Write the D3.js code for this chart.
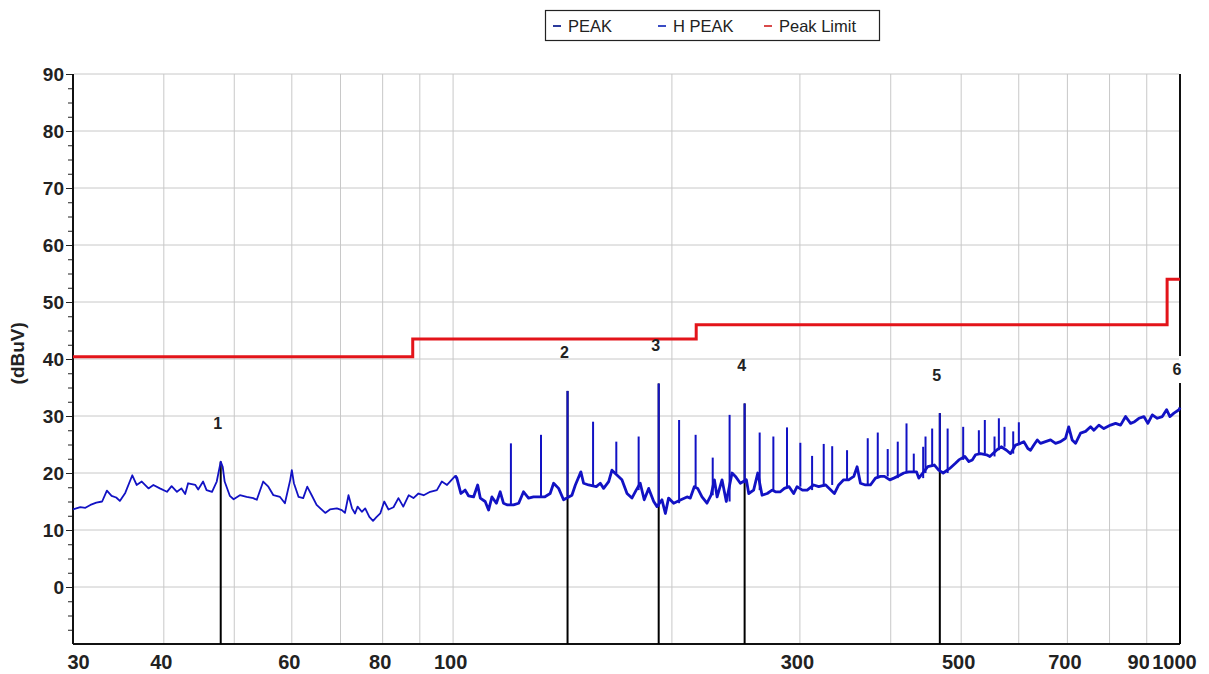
<!DOCTYPE html>
<html>
<head>
<meta charset="utf-8">
<script src="https://cdn.jsdelivr.net/npm/d3@7"></script>
<style>
body { margin: 0; background: #fff; }
svg { display: block; font-family: "Liberation Sans", Arial, sans-serif; }
</style>
</head>
<body>
<svg width="1209" height="674"></svg>
<script>
// axis values
const xTicks = [30, 40, 60, 80, 100, 300, 500, 700, 900, 1000];
const xGrid = [40, 50, 60, 70, 80, 90, 100, 200, 300, 400, 500, 600, 700, 800, 900];
const yTicks = [0, 10, 20, 30, 40, 50, 60, 70, 80, 90];
const yMinor = [-7.5, -5, -2.5, 2.5, 5, 7.5, 12.5, 15, 17.5, 22.5, 25, 27.5, 32.5, 35, 37.5,
    42.5, 45, 47.5, 52.5, 55, 57.5, 62.5, 65, 67.5, 72.5, 75, 77.5, 82.5, 85, 87.5];

// Peak Limit (MHz, dBuV), stepped
const limitSteps = [[30, 40.4], [88, 43.5], [216, 46], [960, 54], [1000, 54]];

// marker points (MHz, dBuV)
const markers = [
    { id: "1", f: 47.9, v: 22.0 },
    { id: "2", f: 143.7, v: 34.4 },
    { id: "3", f: 191.8, v: 35.7 },
    { id: "4", f: 251.8, v: 32.2 },
    { id: "5", f: 467.3, v: 30.5 },
    { id: "6", f: 1000, v: 31.5 }
];

const legendItems = [
    { name: "PEAK", color: "#2b3a9c" },
    { name: "H PEAK", color: "#3a4cc4" },
    { name: "Peak Limit", color: "#d94a4a" }
];

// PEAK noise floor (MHz, dBuV)
const peakTrace = [
[30.0,13.6],[30.7,14.0],[31.2,13.9],[31.7,14.4],[32.3,14.8],[32.9,15.0],[33.4,16.9],[33.9,16.0],[34.4,15.7],[34.8,15.1],
[35.4,16.5],[36.2,19.6],[36.7,17.9],[37.3,18.5],[38.1,17.3],[38.7,17.9],[39.5,17.3],[40.4,16.7],[41.0,17.7],[41.7,16.7],
[42.3,17.3],[42.8,16.3],[43.2,18.2],[44.2,17.9],[44.6,17.1],[45.3,18.5],[45.8,17.0],[46.6,16.7],[47.3,18.5],[47.9,22.0],
[48.2,21.1],[48.5,18.5],[49.3,16.0],[49.9,15.4],[50.9,16.1],[52.0,15.8],[53.1,15.6],[53.7,15.3],[54.8,18.5],[55.7,17.6],
[56.6,16.1],[57.8,15.8],[58.7,14.7],[59.7,18.8],[60.0,20.5],[60.4,18.2],[61.3,15.8],[62.2,15.6],[63.0,17.6],[63.9,16.1],
[64.9,14.4],[66.7,13.0],[67.7,13.6],[69.2,13.8],[70.3,13.5],[71.0,13.0],[71.8,16.1],[72.6,13.8],[73.3,12.9],[73.9,14.1],
[74.9,13.2],[75.7,13.8],[76.7,12.3],[77.6,11.6],[78.5,12.3],[79.4,12.9],[80.4,15.0],[81.5,13.6],[82.8,14.0],[84.1,15.6],
[85.4,14.1],[86.9,16.1],[88.2,15.6],[89.6,16.4],[91.1,16.1],[93.0,16.7],[95.0,17.0],[96.5,18.5],[98.1,17.9],[100.7,19.5],
[101.2,19.1],[102.5,16.4],[103.9,17.0],[105.0,16.0],[106.7,15.8],[108.1,17.9],[109.0,15.6],[110.7,15.0],[111.9,13.5],[113.1,15.8],
[114.7,14.7],[116.1,16.7],[117.3,14.7],[118.8,14.4],[121.1,14.4],[123.1,14.7],[125.0,16.7],[127.0,15.6],[129.0,15.8],[133.6,15.8],
[136.0,16.4],[137.5,18.2],[139.7,17.3],[141.9,15.3],[145.7,16.1],[147.3,17.9],[149.9,20.2],[151.2,18.2],[153.6,17.9],[157.4,17.6],
[159.4,18.2],[161.1,17.3],[163.7,18.5],[165.4,20.5],[170.7,18.8],[173.5,16.4],[176.2,15.6],[178.6,17.0],[180.9,18.2],[183.2,15.3],
[185.8,17.3],[188.8,15.0],[190.8,14.1],[193.8,15.3],[195.9,12.9],[197.9,15.6],[201.1,14.7],[205.8,15.3],[209.8,15.8],[212.0,15.6],
[214.7,17.6],[217.0,17.3],[220.0,15.8],[223.5,14.7],[226.4,16.1],[228.8,18.8],[230.8,15.8],[234.4,18.8],[237.6,15.0],[242.0,20.0],
[244.6,19.4],[248.4,18.2],[253.2,18.8],[255.1,16.4],[259.1,17.0],[262.5,20.0],[266.1,16.1],[270.5,16.4],[274.7,17.0],[277.6,16.7],
[282.0,16.7],[285.6,17.3],[289.9,17.6],[294.1,16.4],[297.3,17.6],[302.4,17.0],[307.0,17.0],[313.4,17.9],[318.4,17.6],[325.5,17.9],
[334.6,16.4],[339.2,17.9],[344.6,18.8],[350.1,18.8],[355.8,19.4],[359.6,21.1],[363.4,18.2],[369.2,17.9],[375.1,17.9],[381.1,19.1],
[387.2,19.4],[392.1,19.4],[398.8,18.8],[404.0,19.1],[411.6,19.6],[416.9,20.0],[423.6,20.2],[434.0,20.2],[437.2,19.1],[449.8,21.1],
[459.4,21.4],[465.6,20.5],[472.3,20.0],[482.2,20.8],[491.0,21.7],[496.3,22.3],[505.8,22.9],[512.3,22.0],[517.9,22.3],[523.3,23.2],
[531.5,23.4],[541.8,23.2],[547.5,22.9],[559.2,24.0],[567.6,24.6],[577.3,24.0],[584.6,23.4],[594.0,24.9],[603.4,25.2],[609.8,25.5],
[617.6,24.3],[622.8,24.0],[629.4,24.9],[636.3,25.8],[642.9,25.2],[653.1,25.5],[663.6,25.8],[674.2,25.2],[685.0,25.5],[695.9,26.1],
[702.9,28.1],[710.6,25.8],[718.3,25.2],[729.8,27.0],[741.5,27.3],[753.3,28.1],[761.2,27.5],[773.4,28.4],[785.7,27.8],[802.6,28.4],
[815.4,28.7],[828.4,28.4],[841.7,29.9],[855.1,28.7],[866.0,29.0],[877.9,29.6],[891.9,29.9],[903.2,28.7],[916.0,30.2],[930.6,29.6],
[945.5,29.9],[958.4,31.1],[968.5,29.9],[981.0,30.5],[996.8,31.1],[1000,31.5]
];

// narrow emissions on top of the floor: [MHz, base dBuV, top dBuV]
const peakSpikes = [
[120.1,14.4,25.2],[132.1,15.8,26.7],[143.7,16.0,34.4],[155.8,17.9,29.0],[167.7,20.0,25.5],[180.0,17.0,26.4],
[191.8,14.1,35.7],[204.6,14.7,29.3],[215.6,17.6,26.7],[227.6,16.1,22.7],[240.1,15.0,30.2],[251.8,18.2,32.2],
[264.1,17.0,27.1],[275.8,17.0,26.4],[288.0,17.3,28.0],[300.4,17.6,25.3],[311.8,17.0,23.0],[323.5,17.6,25.1],
[332.3,17.9,24.7],[348.3,18.8,24.0],[371.9,17.9,26.1],[383.9,19.1,27.1],[396.2,19.4,24.2],[409.0,19.1,25.5],
[420.5,20.0,28.7],[430.3,20.2,23.4],[443.3,19.1,24.6],[446.6,20.0,26.4],[456.1,21.1,27.8],[467.3,20.5,30.5],
[479.0,20.0,27.8],[503.2,22.3,28.1],[528.8,23.2,27.5],[538.9,23.4,29.3],[555.7,22.9,26.4],[563.4,24.0,29.6],
[573.6,24.6,28.1],[589.6,23.4,27.3],[600.2,24.9,28.9]
];

const svg = d3.select("svg");

const x = d3.scaleLog().domain([30, 1000]).range([73, 1180]);
const y = d3.scaleLinear().domain([-10, 90]).range([644, 74]);

// axis frame
const frame = svg.append("g").attr("stroke", "#111").attr("stroke-width", 2);
frame.append("line").attr("x1", x(30)).attr("x2", x(30)).attr("y1", y(90)).attr("y2", y(-10));
frame.append("line").attr("x1", x(30)).attr("x2", x(1000)).attr("y1", y(-10)).attr("y2", y(-10));
frame.append("line").attr("x1", x(1000)).attr("x2", x(1000)).attr("y1", y(90)).attr("y2", y(-10));

// white boxes behind marker numbers
const labelBg = svg.append("g");

// grid
svg.append("g")
    .selectAll("line")
    .data(yTicks)
    .join("line")
    .attr("x1", x(30) + 1).attr("x2", x(1000) - 1)
    .attr("y1", d => y(d)).attr("y2", d => y(d))
    .attr("stroke", "#c8c8c8");

svg.append("g")
    .selectAll("line")
    .data(xGrid)
    .join("line")
    .attr("x1", d => x(d)).attr("x2", d => x(d))
    .attr("y1", y(90)).attr("y2", y(-10) - 1)
    .attr("stroke", "#c8c8c8");

// y axis
const yAxis = svg.append("g")
    .attr("transform", `translate(${x(30) - 1},0)`)
    .call(d3.axisLeft(y).tickValues(yTicks).tickSize(6).tickPadding(2));
yAxis.select(".domain").remove();
yAxis.selectAll("line").attr("stroke", "#222");
yAxis.selectAll("text")
    .attr("font-size", 19).attr("font-weight", "bold").attr("fill", "#222")
    .attr("font-family", "Liberation Sans, Arial, sans-serif");

const yMinorAxis = svg.append("g")
    .attr("transform", `translate(${x(30) - 1},0)`)
    .call(d3.axisLeft(y).tickValues(yMinor).tickSize(4).tickFormat(""));
yMinorAxis.select(".domain").remove();
yMinorAxis.selectAll("line").attr("stroke", "#222");

svg.append("text")
    .attr("transform", `translate(24,${y(41)}) rotate(-90)`)
    .attr("text-anchor", "middle")
    .attr("font-size", 19).attr("font-weight", "bold").attr("fill", "#222")
    .text("(dBuV)");

// x axis
const xAxis = svg.append("g")
    .attr("transform", `translate(0,${y(-10)})`)
    .call(d3.axisBottom(x).tickValues(xTicks).tickFormat(d3.format("d")).tickSize(0).tickPadding(11));
xAxis.select(".domain").remove();
xAxis.selectAll("text")
    .attr("font-size", 20).attr("font-weight", "bold").attr("fill", "#222")
    .attr("font-family", "Liberation Sans, Arial, sans-serif")
    .attr("dx", -3);
xAxis.selectAll(".tick").filter(d => d === 30).select("text")
    .attr("text-anchor", "start").attr("dx", -6);
const lastTick = xAxis.selectAll(".tick").filter(d => d === 1000);
lastTick.select("text").attr("dx", -6);
lastTick.each(function () {
    const b = d3.select(this).select("text").node().getBBox();
    d3.select(this).insert("rect", "text")
        .attr("x", b.x - 3).attr("y", b.y).attr("width", b.width + 5).attr("height", b.height)
        .attr("fill", "#fff");
});

// limit line
const limitLine = d3.line()
    .x(d => x(d[0]))
    .y(d => y(d[1]))
    .curve(d3.curveStepAfter);

svg.append("path")
    .datum(limitSteps)
    .attr("d", limitLine)
    .attr("fill", "none")
    .attr("stroke", "#e3141a")
    .attr("stroke-width", 3);

// marker lines
svg.append("g")
    .selectAll("line")
    .data(markers)
    .join("line")
    .attr("x1", d => x(d.f)).attr("x2", d => x(d.f))
    .attr("y1", y(-10)).attr("y2", d => y(d.v))
    .attr("stroke", "#000")
    .attr("stroke-width", 2);

// trace: thinner below 100 MHz, dense band above
const traceLine = d3.line()
    .x(d => x(d[0]))
    .y(d => y(d[1]));

const traceParts = [
    { data: peakTrace.filter(d => d[0] <= 101.2), width: 1.8 },
    { data: peakTrace.filter(d => d[0] >= 100.7), width: 2.8 }
];

svg.append("g")
    .selectAll("path")
    .data(traceParts)
    .join("path")
    .attr("d", d => traceLine(d.data))
    .attr("fill", "none")
    .attr("stroke", "#1212c4")
    .attr("stroke-width", d => d.width)
    .attr("stroke-linejoin", "round");

svg.append("g")
    .selectAll("line")
    .data(peakSpikes)
    .join("line")
    .attr("x1", d => x(d[0])).attr("x2", d => x(d[0]))
    .attr("y1", d => y(d[1])).attr("y2", d => y(d[2]))
    .attr("stroke", "#1212c4")
    .attr("stroke-width", 2);

// marker numbers
const mLabels = svg.append("g")
    .selectAll("text")
    .data(markers)
    .join("text")
    .attr("x", d => x(d.f) - 3)
    .attr("y", d => y(d.v + 6.7))
    .attr("dy", "0.36em")
    .attr("text-anchor", "middle")
    .attr("font-size", 16).attr("font-weight", "bold").attr("fill", "#222")
    .text(d => d.id);

mLabels.each(function () {
    const b = this.getBBox();
    labelBg.append("rect")
        .attr("x", b.x - 3).attr("y", b.y - 5)
        .attr("width", b.width + 6).attr("height", b.height + 10)
        .attr("fill", "#fff");
});

// legend
const legend = svg.append("g");
legend.append("rect")
    .attr("x", 545.5).attr("y", 10.5).attr("width", 334).attr("height", 30)
    .attr("fill", "#fff").attr("stroke", "#222").attr("stroke-width", 1.2);

const legendX = [553, 658, 764];
const li = legend.selectAll(".li")
    .data(legendItems)
    .join("g")
    .attr("class", "li")
    .attr("transform", (d, i) => `translate(${legendX[i]},0)`);
li.append("line")
    .attr("x1", 0).attr("x2", 8).attr("y1", 26).attr("y2", 26)
    .attr("stroke", d => d.color).attr("stroke-width", 2);
li.append("text")
    .attr("x", 15).attr("y", 32)
    .attr("font-size", 16.5).attr("fill", "#222")
    .text(d => d.name);
</script>
</body>
</html>
